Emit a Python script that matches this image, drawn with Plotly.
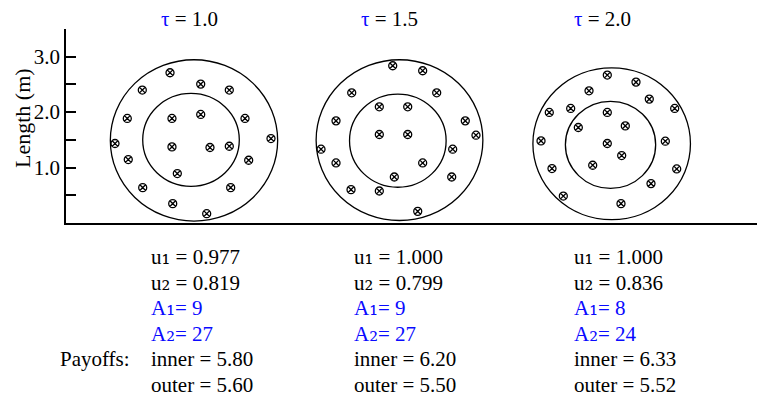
import plotly.graph_objects as go

# --- values -------------------------------------------------------------
tau = [1.0, 1.5, 2.0]
u1 = [0.977, 1.000, 1.000]
u2 = [0.819, 0.799, 0.836]
A1 = [9, 9, 8]
A2 = [27, 27, 24]
payoff_inner = [5.80, 6.20, 6.33]
payoff_outer = [5.60, 5.50, 5.52]

# disc geometry in metres (centre x, centre y, radius)
outer_cx = [2.226, 5.80, 9.49]
outer_cy = [1.49, 1.495, 1.43]
outer_r = [1.455, 1.45, 1.37]
inner_cx = [2.174, 5.771, 9.47]
inner_cy = [1.50, 1.485, 1.41]
inner_r = [0.84, 0.84, 0.785]

# individual positions (m) for each configuration
pos_x_1 = [1.809, 2.343, 2.840, 1.327, 1.066, 1.843, 2.343, 3.113, 3.565, 0.852,
           1.843, 2.504, 2.840, 1.083, 3.177, 1.936, 1.334, 2.864, 1.856, 2.447]
pos_y_1 = [2.711, 2.506, 2.398, 2.398, 1.886, 1.886, 1.958, 1.886, 1.524, 1.434,
           1.373, 1.362, 1.385, 1.145, 1.132, 0.892, 0.638, 0.638, 0.349, 0.168]
pos_x_2 = [5.682, 6.203, 4.969, 6.447, 5.449, 5.943, 4.696, 6.944, 5.449, 5.943,
           7.130, 4.435, 6.725, 4.696, 6.203, 5.710, 6.708, 4.957, 5.449, 6.117]
pos_y_2 = [2.837, 2.747, 2.349, 2.349, 2.096, 2.096, 1.843, 1.843, 1.597, 1.597,
           1.584, 1.331, 1.331, 1.083, 1.083, 0.830, 0.830, 0.602, 0.577, 0.210]
pos_x_3 = [9.414, 9.913, 9.096, 10.144, 10.586, 8.777, 8.405, 9.414, 8.910, 9.727,
           8.261, 9.414, 10.423, 9.664, 9.160, 8.452, 10.621, 10.174, 8.649, 9.652]
pos_y_3 = [2.669, 2.542, 2.385, 2.235, 2.067, 2.067, 1.995, 1.995, 1.723, 1.752,
           1.481, 1.434, 1.476, 1.217, 1.042, 0.982, 0.975, 0.711, 0.486, 0.349]

pos_x = [pos_x_1, pos_x_2, pos_x_3]
pos_y = [pos_y_1, pos_y_2, pos_y_3]

# --- layout constants ---------------------------------------------------
W, H = 757, 396
ML, MR, MT, MB = 66, 0, 29, 173
PX_PER_M_X = 57.5
Y_MAX = 3.5
X_MAX = (W - ML - MR) / PX_PER_M_X
PLOT_W = W - ML - MR
PLOT_H = H - MT - MB

FONT = "Liberation Serif"
TXT_SIZE = 21
BLUE = "#0a0aff"
BLACK = "#000000"


def paper_x(px):
    """page pixel column -> paper fraction"""
    return (px - ML) / PLOT_W


def paper_y(py):
    """page pixel row -> paper fraction"""
    return (H - MB - py) / PLOT_H


def sub(ch):
    """subscript digit drawn with a font whose subscript glyphs are legible"""
    return f"<span style='font-family:DejaVu Serif;font-size:22px'>{ch}</span>"


fig = go.Figure()

shapes = []
for k in range(3):
    for cx, cy, r in ((outer_cx[k], outer_cy[k], outer_r[k]),
                      (inner_cx[k], inner_cy[k], inner_r[k])):
        shapes.append(dict(type="circle", xref="x", yref="y",
                           x0=cx - r, x1=cx + r, y0=cy - r, y1=cy + r,
                           line=dict(color=BLACK, width=1.3), layer="below"))
    fig.add_trace(go.Scatter(
        x=pos_x[k], y=pos_y[k], mode="markers",
        marker=dict(symbol="circle-x-open", size=8, color=BLACK,
                    line=dict(width=1.3, color=BLACK)),
        showlegend=False, hoverinfo="skip", cliponaxis=False))


def label(px, py, text, color=BLACK, size=TXT_SIZE, anchor="left", angle=0):
    return dict(x=paper_x(px), y=paper_y(py), xref="paper", yref="paper",
                xanchor=anchor, yanchor="middle", showarrow=False,
                borderpad=0, borderwidth=0, text=text, textangle=angle,
                font=dict(family=FONT, size=size, color=color))


annotations = []
title_left = [161, 361, 574]
col_left = [151, 354, 574]
row_mid = [256, 282, 307, 333, 359, 385]

for k in range(3):
    annotations.append(label(
        title_left[k], 19,
        f"<span style='color:{BLUE}'>τ</span> = {tau[k]:.1f}"))
    rows = [
        (f"u{sub('₁')} = {u1[k]:.3f}", BLACK),
        (f"u{sub('₂')} = {u2[k]:.3f}", BLACK),
        (f"A{sub('₁')}= {A1[k]}", BLUE),
        (f"A{sub('₂')}= {A2[k]}", BLUE),
        (f"inner = {payoff_inner[k]:.2f}", BLACK),
        (f"outer = {payoff_outer[k]:.2f}", BLACK),
    ]
    for (txt, col), ym in zip(rows, row_mid):
        annotations.append(label(col_left[k], ym, txt, col))

annotations.append(label(60, row_mid[4], "Payoffs:"))

# vertical axis caption
annotations.append(label(22, 118, "Length (m)", size=22, anchor="center", angle=-90))

tick_vals = [0.5, 1.0, 1.5, 2.0, 2.5, 3.0, 3.5]
tick_text = ["" if v % 1 else f"{v:.1f}" for v in tick_vals]
tick_text[-1] = ""

fig.update_layout(
    width=W, height=H,
    margin=dict(l=ML, r=MR, t=MT, b=MB, pad=0),
    paper_bgcolor="white", plot_bgcolor="white",
    font=dict(family=FONT, size=20, color=BLACK),
    shapes=shapes, annotations=annotations,
    xaxis=dict(range=[0, X_MAX], showline=True, linecolor=BLACK, linewidth=1.5,
               showticklabels=False, ticks="", showgrid=False, zeroline=False),
    yaxis=dict(range=[0, Y_MAX], showline=True, linecolor=BLACK, linewidth=1.5,
               ticks="inside", ticklen=10, tickwidth=1.5, tickcolor=BLACK,
               tickvals=tick_vals, ticktext=tick_text,
               tickfont=dict(family=FONT, size=21, color=BLACK),
               showgrid=False, zeroline=False),
)

fig.write_html("out.html")
